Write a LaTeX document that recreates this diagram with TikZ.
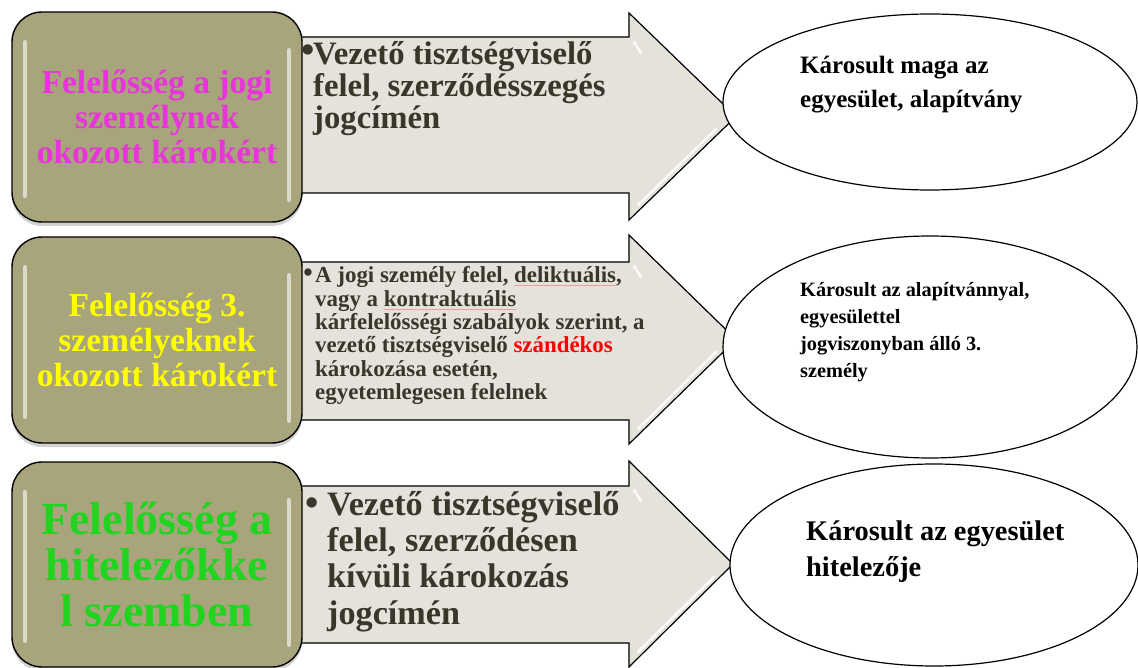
\documentclass[tikz,border=0pt]{standalone}
\usepackage{fontspec}
\setmainfont{Liberation Serif}
\usetikzlibrary{shapes.geometric,shadows}

\definecolor{boxfill}{RGB}{168,164,124}
\definecolor{arrfill}{RGB}{228,226,219}
\definecolor{arrtext}{RGB}{56,55,42}
\definecolor{magentatext}{RGB}{232,52,218}
\definecolor{yellowtext}{RGB}{255,255,0}
\definecolor{greentext}{RGB}{32,212,32}
\definecolor{spellred}{RGB}{235,160,160}

\newcommand\spellline[1]{\setbox0\hbox{#1}\rlap{\textcolor{spellred}{\rule[-0.3ex]{\wd0}{0.6pt}}}\box0}
\newcommand\fsz[2]{\fontsize{#1pt}{#2pt}\selectfont\bfseries}

\begin{document}
\begin{tikzpicture}[x=1pt,y=-1pt,
  sidebox/.style={draw=black, line width=1.4pt, fill=boxfill, rounded corners=30pt,
    minimum width=290pt, minimum height=#1, inner sep=0pt,
    drop shadow={shadow xshift=0pt, shadow yshift=-4pt, opacity=0.35}},
  arrowshape/.style={draw=black, line width=1.2pt, fill=arrfill, line join=miter},
  hl/.style={white, line width=2.6pt, opacity=0.85, line cap=round},
  bhl/.style={white, line width=4pt, opacity=0.6, line cap=round},
  ell/.style={ellipse, draw=black, line width=1.2pt, fill=white, inner sep=0pt},
  boxtext/.style={align=center, inner sep=0pt},
  atext/.style={align=left, anchor=north west, inner sep=0pt, text=arrtext},
  etext/.style={align=left, anchor=north west, inner sep=0pt, text=black},
  bulletmark/.style={inner sep=0pt, text=arrtext}
]
\useasboundingbox (0,0) rectangle (1138,668);
\fill[white] (0,0) rectangle (1138,668);

% arrows
\path[arrowshape] (296,37) -- (629,37) -- (629,13) -- (736,116.5) -- (629,220) -- (629,193) -- (296,193) -- cycle;
\path[arrowshape] (296,262) -- (629,262) -- (629,235) -- (736,339.5) -- (629,444) -- (629,420) -- (296,420) -- cycle;
\path[arrowshape] (296,486) -- (629,486) -- (629,461) -- (733,564) -- (629,667) -- (629,643) -- (296,643) -- cycle;
% arrow highlights
\draw[hl] (638,205) -- (716,129);
\draw[hl] (634,42) -- (641,53);
\draw[hl] (638,429) -- (716,352);
\draw[hl] (634,266) -- (641,277);
\draw[hl] (638,652) -- (714,577);
\draw[hl] (634,490) -- (641,501);

% side boxes
\node[sidebox=210pt] (b1) at (157,117) {};
\node[sidebox=206pt] (b2) at (157,340) {};
\node[sidebox=205pt] (b3) at (157,564.5) {};
\foreach \t/\b in {12/222, 237/443, 462/667}{
  \draw[bhl] (25,\t+30) -- (25,\b-26);
  \draw[bhl] (289,\t+38) -- (289,\b-22);
}

% box texts
\node[boxtext, text=magentatext, font=\fsz{33.5}{35}] (t1) at (b1.center) {Felelősség a jogi\\személynek\\okozott károkért};
\node[boxtext, text=yellowtext, font=\fsz{33.5}{35}] (t2) at (b2.center) {Felelősség 3.\\személyeknek\\okozott károkért};
\node[boxtext, text=greentext, font=\fsz{46}{46}] (t3) at (b3.center) {Felelősség a\\hitelezőkke\\l szemben};

% arrow texts
\node[bulletmark, font=\fsz{38}{38}] (bu1) at (308.5,54) {•};
\node[atext, font=\fsz{32.7}{32}] (a1) at (313,41) {Vezető tisztségviselő\\felel, szerződésszegés\\jogcímén};
\node[bulletmark, font=\fsz{27}{27}] (bu2) at (308,275) {•};
\node[atext, font=\fsz{22.9}{23.3}] (a2) at (315,266.5) {A jogi személy felel, \spellline{deliktuális},\\vagy a \spellline{kontraktuális}\\kárfelelősségi szabályok szerint, a\\vezető tisztségviselő {\color{red}szándékos}\\károkozása esetén,\\egyetemlegesen felelnek};
\node[bulletmark, font=\fsz{38}{38}] (bu3) at (312,507) {•};
\node[atext, font=\fsz{34.2}{36.3}] (a3) at (327,491) {Vezető tisztségviselő\\felel, szerződésen\\kívüli károkozás\\jogcímén};

% ellipses
\node[ell, minimum width=414pt, minimum height=176pt] (e1) at (930,102) {};
\node[ell, minimum width=414pt, minimum height=222pt] (e2) at (930,347) {};
\node[ell, minimum width=408pt, minimum height=202pt] (e3) at (934,565) {};

\node[etext, font=\fsz{25}{34}] (e1t) at (800,56) {Károsult maga az\\egyesület, alapítvány};
\node[etext, font=\fsz{20.3}{27}] (e2t) at (800,282.5) {Károsult az alapítvánnyal,\\egyesülettel\\jogviszonyban álló 3.\\személy};
\node[etext, font=\fsz{28.4}{36}] (e3t) at (806,520.5) {Károsult az egyesület\\hitelezője};
\end{tikzpicture}
\end{document}
